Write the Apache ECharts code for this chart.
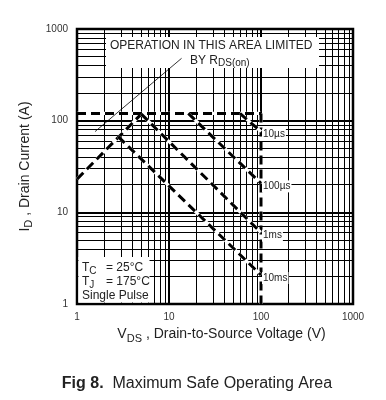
<!DOCTYPE html>
<html><head><meta charset="utf-8">
<script src="https://cdn.jsdelivr.net/npm/echarts@6/dist/echarts.min.js"></script>
<style>html,body{margin:0;padding:0;background:#fff}#c{width:386px;height:400px}</style>
</head><body><div id="c"></div>
<script>
const FONT = '"Liberation Sans", Arial, Helvetica, sans-serif';
// axis decades and minor multipliers
const decades = [1, 10, 100];
const minorMultipliers = [2, 3, 4, 5, 6, 7, 8, 9];
// SOA boundary lines [V_DS (V), I_D (A)]
const currentLimit = [[1, 120], [100, 120]];
const voltageLimit = [[100, 120], [100, 1]];
const rdsOnLimit = [[1, 23], [5, 118]];
const pulse10us = [[59, 120], [100, 76]];
const pulse100us = [[16.2, 120], [100, 20.7]];
const pulse1ms = [[5, 118], [100, 6]];
const pulse10ms = [[2.8, 67], [100, 2.07]];
const rdsPointer = [[1.57, 76], [13.7, 479]];
const pulseNames = ['10µs', '100µs', '1ms', '10ms'];

const minorValues = [];
decades.forEach(d => minorMultipliers.forEach(m => minorValues.push(d * m)));

function dashed(data, z, labelText) {
  const under = {type: 'line', data, symbol: 'none', silent: true, z: z,
    lineStyle: {color: '#fff', width: 3.2}};
  const top = {type: 'line', data, symbol: 'none', silent: true, z: z + 1,
    lineStyle: {color: '#000', width: 3, type: [9, 5]}};
  if (labelText) {
    top.endLabel = {show: true, formatter: labelText, fontFamily: FONT, fontSize: 10, color: '#222',
      backgroundColor: '#fff', padding: [1, 1, 1, 1], distance: 1, offset: [0, 3]};
  }
  return [under, top];
}

const chart = echarts.init(document.getElementById('c'), null, {renderer: 'canvas'});
const series = [
  {type: 'line', data: [], silent: true, z: 1,
    markLine: {silent: true, symbol: ['none', 'none'], animation: false, label: {show: false},
      lineStyle: {color: '#000', width: 1, type: 'solid'},
      data: [...minorValues.map(v => ({xAxis: v})), ...minorValues.map(v => ({yAxis: v}))]}},
  ...dashed(voltageLimit, 4),
  ...dashed(currentLimit, 6),
  ...dashed(rdsOnLimit, 6),
  ...dashed(pulse10us, 8, pulseNames[0]),
  ...dashed(pulse100us, 8, pulseNames[1]),
  ...dashed(pulse1ms, 8, pulseNames[2]),
  ...dashed(pulse10ms, 8, pulseNames[3]),
  {type: 'line', data: rdsPointer, symbol: 'none', silent: true, z: 120,
    lineStyle: {color: '#000', width: 0.8}}
];

const axisLabel = {fontFamily: FONT, fontSize: 10, color: '#333',
  formatter: v => String(Math.round(v))};
const nameRich = {
  a: {fontFamily: FONT, fontSize: 14, color: '#222'},
  s: {fontFamily: FONT, fontSize: 11, color: '#222', padding: [8, 0, 0, 0]}
};

chart.setOption({
  animation: false,
  grid: {left: 77, right: 33, top: 29, bottom: 96, show: true, borderColor: '#000', borderWidth: 2.5, backgroundColor: '#fff'},
  xAxis: {type: 'log', logBase: 10, min: 1, max: 1000,
    axisLine: {show: false}, axisTick: {show: false},
    axisLabel: Object.assign({margin: 8}, axisLabel),
    splitLine: {show: true, lineStyle: {color: '#000', width: 2}},
    name: '{a|V}{s|DS}{a| , Drain-to-Source Voltage (V)}', nameLocation: 'middle', nameGap: 21,
    nameTextStyle: {rich: nameRich, padding: [0, 0, 0, 13]}},
  yAxis: {type: 'log', logBase: 10, min: 1, max: 1000,
    axisLine: {show: false}, axisTick: {show: false},
    axisLabel: Object.assign({margin: 9}, axisLabel),
    splitLine: {show: true, lineStyle: {color: '#000', width: 2}},
    name: '{a|I}{s|D}{a| , Drain Current (A)}', nameLocation: 'middle', nameGap: 31,
    nameTextStyle: {rich: nameRich}},
  series,
  graphic: [
    {type: 'rect', z: 100, shape: {x: 106, y: 37, width: 213, height: 31}, style: {fill: '#fff'}},
    {type: 'text', z: 101, style: {x: 110, y: 46, text: 'OPERATION IN THIS AREA LIMITED', font: '12px ' + FONT, fill: '#222', verticalAlign: 'middle'}},
    {type: 'text', z: 101, style: {x: 190, y: 61, text: '{a|BY R}{s|DS(on)}', verticalAlign: 'middle',
      rich: {a: {font: '12px ' + FONT, fill: '#222'}, s: {font: '10px ' + FONT, fill: '#222', padding: [4, 0, 0, 0]}}}},
    {type: 'rect', z: 100, shape: {x: 78.5, y: 257, width: 71, height: 45.5}, style: {fill: '#fff'}},
    {type: 'text', z: 101, style: {x: 82, y: 268, text: '{a|T}{s|C}', verticalAlign: 'middle',
      rich: {a: {font: '12px ' + FONT, fill: '#222'}, s: {font: '10px ' + FONT, fill: '#222', padding: [6, 0, 0, 0]}}}},
    {type: 'text', z: 101, style: {x: 106, y: 268, text: '= 25°C', font: '12px ' + FONT, fill: '#222', verticalAlign: 'middle'}},
    {type: 'text', z: 101, style: {x: 82, y: 282, text: '{a|T}{s|J}', verticalAlign: 'middle',
      rich: {a: {font: '12px ' + FONT, fill: '#222'}, s: {font: '10px ' + FONT, fill: '#222', padding: [6, 0, 0, 0]}}}},
    {type: 'text', z: 101, style: {x: 106, y: 282, text: '= 175°C', font: '12px ' + FONT, fill: '#222', verticalAlign: 'middle'}},
    {type: 'text', z: 101, style: {x: 82, y: 296, text: 'Single Pulse', font: '12px ' + FONT, fill: '#222', verticalAlign: 'middle'}},
    {type: 'text', z: 101, style: {x: 197, y: 384, text: '{b|Fig 8.}{n|  Maximum Safe Operating Area}', align: 'center', verticalAlign: 'middle',
      rich: {b: {font: 'bold 16px ' + FONT, fill: '#222'}, n: {font: '16px ' + FONT, fill: '#222'}}}}
  ]
});
</script></body></html>
